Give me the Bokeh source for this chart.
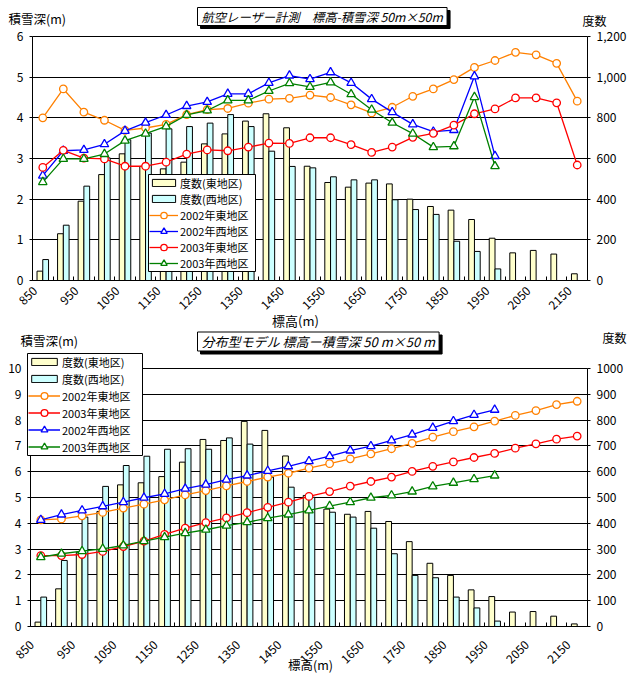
import math
import numpy as np
from bokeh.plotting import figure
from bokeh.models import (Range1d, FixedTicker, NumeralTickFormatter, LinearAxis,
                          Legend, LegendItem, Label, BoxAnnotation)
from bokeh.layouts import column
from bokeh.embed import file_html
from bokeh.resources import INLINE

FONT = "Noto Sans CJK JP"
NaN = float("nan")

# ---------------- data ----------------
elevations = list(range(850, 2151, 50))
tick_labels = [str(e) for e in elevations[::2]]

# Top chart: 航空レーザー計測
top_east_cnt = [46, 230, 390, 521, 623, 561, 549, 582, 672, 721, 784, 820, 751, 562,
                482, 459, 479, 475, 400, 364, 346, 300, 208, 136, 148, 130, 33]
top_west_cnt = [103, 272, 464, 603, 692, 725, 746, 757, 774, 816, 757, 636, 561, 554,
                510, 495, 495, 397, 349, 325, 193, 143, 57, NaN, NaN, NaN, NaN]
top_e2002 = [4.00, 4.71, 4.14, 3.94, 3.69, 3.75, 3.84, 4.08, 4.20, 4.23, 4.36, 4.46, 4.48, 4.56,
             4.50, 4.32, 4.12, 4.26, 4.53, 4.71, 4.94, 5.24, 5.41, 5.61, 5.55, 5.34, 4.41]
top_w2002 = [2.58, 3.19, 3.21, 3.35, 3.68, 3.88, 4.07, 4.29, 4.39, 4.59, 4.59, 4.86, 5.04, 4.95,
             5.12, 4.86, 4.46, 4.14, 3.84, 3.66, 3.70, 5.02, 3.06, NaN, NaN, NaN, NaN]
top_e2003 = [2.78, 3.20, 3.01, 2.99, 2.81, 2.81, 2.91, 3.11, 3.21, 3.19, 3.28, 3.38, 3.37, 3.51,
             3.51, 3.34, 3.15, 3.28, 3.52, 3.62, 3.82, 4.10, 4.22, 4.49, 4.49, 4.37, 2.84]
top_w2003 = [2.42, 2.99, 2.99, 3.11, 3.44, 3.61, 3.79, 4.07, 4.18, 4.43, 4.43, 4.66, 4.85, 4.76,
             4.87, 4.58, 4.20, 3.88, 3.61, 3.28, 3.30, 4.51, 2.81, NaN, NaN, NaN, NaN]

# Bottom chart: 分布型モデル
bot_east_cnt = [17, 146, 288, 446, 549, 557, 581, 637, 725, 721, 795, 760, 661, 508,
                455, 435, 446, 407, 329, 245, 198, 142, 116, 56, 58, 40, 10]
bot_west_cnt = [114, 256, 424, 543, 624, 660, 687, 689, 687, 731, 707, 579, 540, 501,
                443, 424, 381, 282, 198, 189, 114, 72, 21, NaN, NaN, NaN, NaN]
bot_e2002 = [4.13, 4.17, 4.29, 4.42, 4.59, 4.74, 4.91, 5.10, 5.27, 5.45, 5.62, 5.79, 5.94, 6.14,
             6.31, 6.50, 6.69, 6.89, 7.10, 7.34, 7.55, 7.74, 7.96, 8.18, 8.37, 8.60, 8.73]
bot_w2002 = [4.13, 4.34, 4.50, 4.66, 4.82, 4.99, 5.14, 5.34, 5.50, 5.69, 5.85, 6.03, 6.21, 6.41,
             6.60, 6.82, 6.99, 7.21, 7.44, 7.70, 7.96, 8.20, 8.40, NaN, NaN, NaN, NaN]
bot_e2003 = [2.75, 2.75, 2.79, 2.91, 3.10, 3.31, 3.57, 3.81, 4.03, 4.21, 4.41, 4.62, 4.82, 5.04,
             5.23, 5.44, 5.62, 5.79, 6.01, 6.21, 6.38, 6.55, 6.71, 6.91, 7.08, 7.26, 7.38]
bot_w2003 = [2.69, 2.82, 2.92, 3.01, 3.14, 3.31, 3.46, 3.62, 3.75, 3.91, 4.04, 4.20, 4.34, 4.50,
             4.67, 4.82, 4.99, 5.08, 5.23, 5.43, 5.57, 5.71, 5.85, NaN, NaN, NaN, NaN]

ORANGE, BLUE, RED, GREEN = "#FF8000", "#0000FF", "#FF0000", "#008000"
EAST_FILL, WEST_FILL = "#FFFFCC", "#CCFFFF"
W = 630


def make_chart(height, px_left, px_right, px_top, px_zero, ymax, cmax, cstep, cfmt,
               east_cnt, west_cnt, lines, legend_box, item_h, glyph_w, title, title_fs,
               title_px, ylab_px, clab_px, xlab_px, xlab_fs, x_standoff, tick_shift):
    n = len(elevations)
    ppx = (px_right - px_left) / n
    ppy = (px_zero - px_top) / ymax
    cpp = cmax / (px_zero - px_top)

    def X(px):
        return (px - px_left) / ppx

    def Y(py):
        return (px_zero - py) / ppy

    p = figure(width=W, height=height, output_backend="svg", toolbar_location=None,
               x_range=Range1d(X(0), X(W)), y_range=Range1d(Y(height), Y(0)),
               min_border=0, background_fill_color="white",
               border_fill_color="white", outline_line_color=None)
    p.extra_y_ranges = {"cnt": Range1d(-(height - px_zero) * cpp, cmax + px_top * cpp)}
    centers = np.arange(n) + 0.5
    bw = 0.28

    rb_e = p.vbar(x=centers - bw / 2, top=np.array(east_cnt, dtype=float), width=bw, bottom=0,
                  y_range_name="cnt", fill_color=EAST_FILL, line_color="black", line_width=1)
    rb_w = p.vbar(x=centers + bw / 2, top=np.array(west_cnt, dtype=float), width=bw, bottom=0,
                  y_range_name="cnt", fill_color=WEST_FILL, line_color="black", line_width=1)
    bar_items = [LegendItem(label="度数(東地区)", renderers=[rb_e]),
                 LegendItem(label="度数(西地区)", renderers=[rb_w])]
    line_items = []
    for label, vals, color, marker in lines:
        v = np.array(vals, dtype=float)
        lr = p.line(centers, v, line_color=color, line_width=1.3)
        sr = p.scatter(centers, v, marker=marker, size=7.5 if marker == "circle" else 8.5,
                       fill_color="white", line_color=color, line_width=1.3)
        line_items.append(LegendItem(label=label, renderers=[lr, sr]))

    # x axis (drawn at y = 0)
    xt = [i + tick_shift for i in range(0, n, 2)]
    xa = p.xaxis[0]
    xa.fixed_location = 0
    xa.bounds = (0, n)
    xa.ticker = FixedTicker(ticks=xt, minor_ticks=list(range(0, n + 1)))
    xa.major_label_overrides = {t: lab for t, lab in zip(xt, tick_labels)}
    xa.major_label_orientation = math.pi / 4
    xa.major_tick_out = 0
    xa.major_tick_in = 0
    xa.minor_tick_in = 4
    xa.minor_tick_out = 0
    xa.major_label_standoff = x_standoff
    xa.major_label_text_font = FONT
    xa.major_label_text_font_size = "12px"
    xa.major_label_text_color = "black"
    xa.axis_line_color = "black"
    p.xgrid.visible = False

    # left axis (drawn at x = 0)
    ya = p.yaxis[0]
    ya.fixed_location = 0
    ya.bounds = (0, ymax)
    ya.ticker = FixedTicker(ticks=list(range(0, ymax + 1)))
    ya.major_tick_out = 3
    ya.major_tick_in = 0
    ya.minor_tick_out = 0
    ya.minor_tick_in = 0
    ya.major_label_standoff = 6
    ya.major_label_text_font = FONT
    ya.major_label_text_font_size = "12px"
    ya.major_label_text_color = "black"
    ya.axis_line_color = "black"
    p.ygrid.ticker = FixedTicker(ticks=list(range(0, ymax + 1)))
    p.ygrid.bounds = (0, ymax)
    p.ygrid.cross_bounds = (0, n)
    p.ygrid.grid_line_color = "black"
    p.ygrid.grid_line_width = 1

    # right axis (drawn at x = n)
    ra = LinearAxis(y_range_name="cnt", fixed_location=n, bounds=(0, cmax),
                    ticker=FixedTicker(ticks=list(range(0, cmax + 1, cstep))),
                    formatter=NumeralTickFormatter(format=cfmt))
    ra.major_tick_out = 3
    ra.major_tick_in = 0
    ra.minor_tick_out = 0
    ra.minor_tick_in = 0
    ra.major_label_standoff = 6
    ra.major_label_text_font = FONT
    ra.major_label_text_font_size = "12px"
    ra.major_label_text_color = "black"
    ra.axis_line_color = "black"
    p.add_layout(ra, "right")

    # legend: one framed box holding the bar entries and the line entries
    bl, bt, br, bb = legend_box
    p.add_layout(BoxAnnotation(left=X(bl), right=X(br), top=Y(bt), bottom=Y(bb),
                               fill_color="white", fill_alpha=1, line_color="black",
                               line_width=1, line_alpha=1))
    inner_top = bt + (bb - bt - 6 * item_h) / 2
    common = dict(border_line_color=None, background_fill_alpha=0, label_text_font=FONT,
                  label_text_font_size="11px", label_text_color="black", glyph_width=glyph_w,
                  label_height=item_h, spacing=0, padding=0, margin=0, label_standoff=2)
    leg_a = Legend(items=bar_items, glyph_height=9,
                   location=(bl + 1, height - (inner_top + 2 * item_h)), **common)
    leg_b = Legend(items=line_items, glyph_height=item_h,
                   location=(bl + 1, height - (inner_top + 6 * item_h)), **common)
    p.add_layout(leg_a)
    p.add_layout(leg_b)

    # title box with drop shadow
    tx, ty = X(title_px[0]), Y(title_px[1])
    for shadow in (True, False):
        p.add_layout(Label(x=tx, y=ty, text=title, text_font=FONT, text_font_size=title_fs,
                           text_font_style="italic", text_baseline="middle", text_align="left",
                           text_color="black",
                           background_fill_color="black" if shadow else "white",
                           border_line_color="black", border_line_width=1, padding=(4, 0),
                           x_offset=3 if shadow else 0, y_offset=-3 if shadow else 0))
    for (px, py), txt, al, fs in ((ylab_px, "積雪深(m)", "left", "12.5px"),
                                  (clab_px, "度数", "left", "12px"),
                                  (xlab_px, "標高(m)", "center", xlab_fs)):
        p.add_layout(Label(x=X(px), y=Y(py), text=txt, text_font=FONT, text_font_size=fs,
                           text_baseline="middle", text_align=al, text_color="black"))
    return p


p1 = make_chart(height=330, px_left=32, px_right=587, px_top=36, px_zero=280,
                ymax=6, cmax=1200, cstep=200, cfmt="0,0",
                east_cnt=top_east_cnt, west_cnt=top_west_cnt,
                lines=[("2002年東地区", top_e2002, ORANGE, "circle"),
                       ("2002年西地区", top_w2002, BLUE, "triangle"),
                       ("2003年東地区", top_e2003, RED, "circle"),
                       ("2003年西地区", top_w2003, GREEN, "triangle")],
                legend_box=(148, 174, 255, 271), item_h=16, glyph_w=29,
                title="航空レーザー計測　標高-積雪深 50m×50m", title_fs="12.3px",
                title_px=(197, 16), ylab_px=(8, 18), clab_px=(582, 20), xlab_px=(295, 320),
                xlab_fs="13px", x_standoff=8, tick_shift=0.125)

p2 = make_chart(height=344, px_left=30, px_right=587, px_top=38, px_zero=296,
                ymax=10, cmax=1000, cstep=100, cfmt="0",
                east_cnt=bot_east_cnt, west_cnt=bot_west_cnt,
                lines=[("2002年東地区", bot_e2002, ORANGE, "circle"),
                       ("2003年東地区", bot_e2003, RED, "circle"),
                       ("2002年西地区", bot_w2002, BLUE, "triangle"),
                       ("2003年西地区", bot_w2003, GREEN, "triangle")],
                legend_box=(27, 23, 142, 125), item_h=17, glyph_w=32,
                title="分布型モデル 標高ー積雪深 50 m×50 m", title_fs="13px",
                title_px=(197, 11), ylab_px=(20, 10), clab_px=(602, 7), xlab_px=(310, 334),
                xlab_fs="12.5px", x_standoff=16, tick_shift=0.0625)

layout = column(p1, p2)
open("out.html", "w").write(file_html(layout, INLINE))
